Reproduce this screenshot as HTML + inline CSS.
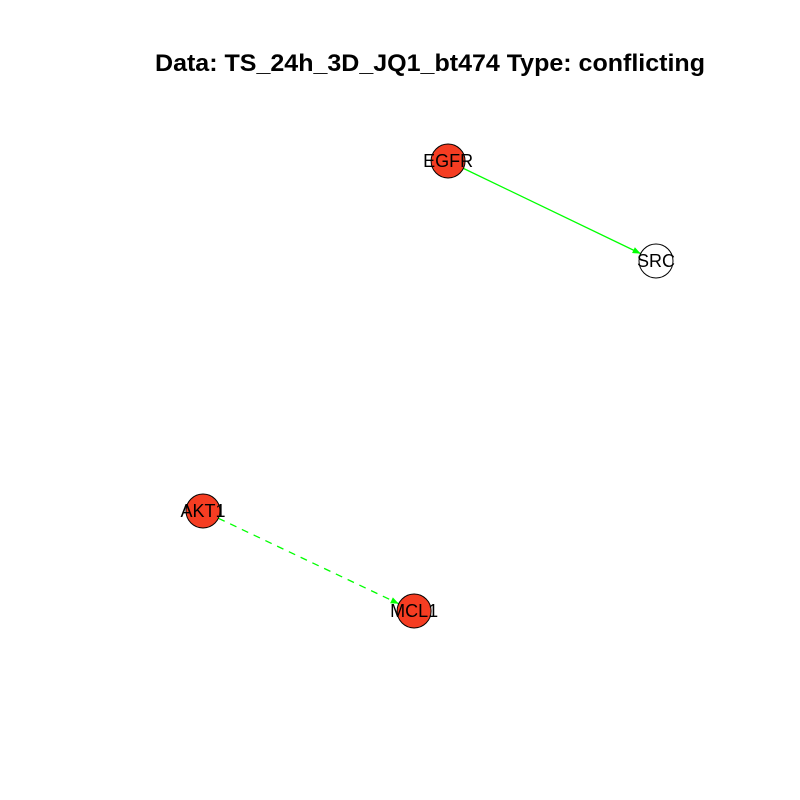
<!DOCTYPE html>
<html><head><meta charset="utf-8"><style>
body{margin:0;background:#fff}
svg{display:block}
text{font-family:"Liberation Sans",sans-serif}
</style></head><body>
<svg id="chart" width="800" height="800" xmlns="http://www.w3.org/2000/svg">
<defs>
<marker id="arr" viewBox="0 0 10 10" refX="10" refY="5" markerWidth="11" markerHeight="8" orient="auto" markerUnits="userSpaceOnUse">
<path d="M0,1 L10,5 L0,9 z" fill="#00ff00"/>
</marker>
</defs>
<text x="430" y="71" text-anchor="middle" font-size="24.5" font-weight="bold" textLength="550" lengthAdjust="spacingAndGlyphs">Data: TS_24h_3D_JQ1_bt474 Type: conflicting</text>
<g id="edges"></g>
<g id="nodes"></g>
</svg>
<script>
const nodeNames = ["EGFR","SRC","AKT1","MCL1"];
const nodeX = [0.541, 1.0, 0.0, 0.466];
const nodeY = [1.0, 0.8, 0.3, 0.1];
const nodeFill = ["#f53d22","#ffffff","#f53d22","#f53d22"];
const edgeFrom = [0, 2];
const edgeTo = [1, 3];
const edgeDash = [false, true];

const sx = v => 203 + v * (656 - 203);
const sy = v => 611 - (v - 0.1) / 0.9 * (611 - 161);
const R = 17;
const NS = "http://www.w3.org/2000/svg";
const eg = document.getElementById('edges');
const ng = document.getElementById('nodes');
edgeFrom.forEach((f, i) => {
  const t = edgeTo[i];
  const x1 = sx(nodeX[f]), y1 = sy(nodeY[f]), x2 = sx(nodeX[t]), y2 = sy(nodeY[t]);
  const d = Math.hypot(x2 - x1, y2 - y1), ux = (x2 - x1) / d, uy = (y2 - y1) / d;
  const l = document.createElementNS(NS, 'line');
  
  
  l.setAttribute('x1', x1 + ux * R); l.setAttribute('y1', y1 + uy * R);
  l.setAttribute('x2', x2 - ux * R); l.setAttribute('y2', y2 - uy * R);
  l.setAttribute('stroke', '#00ff00'); l.setAttribute('stroke-width', '1.3');
  if (edgeDash[i]) l.setAttribute('stroke-dasharray', '7,6');
  l.setAttribute('marker-end', 'url(#arr)');
  eg.appendChild(l);
});
nodeNames.forEach((n, i) => {
  const c = document.createElementNS(NS, 'circle');
  
  
  c.setAttribute('cx', sx(nodeX[i])); c.setAttribute('cy', sy(nodeY[i])); c.setAttribute('r', R);
  c.setAttribute('fill', nodeFill[i]); c.setAttribute('stroke', '#000'); c.setAttribute('stroke-width', '1');
  ng.appendChild(c);
  const tx = document.createElementNS(NS, 'text');
  
  
  tx.setAttribute('x', sx(nodeX[i])); tx.setAttribute('y', sy(nodeY[i]) + 6);
  tx.setAttribute('text-anchor', 'middle'); tx.setAttribute('font-size', '18');
  tx.textContent = n;
  ng.appendChild(tx);
});
</script>
</body></html>
